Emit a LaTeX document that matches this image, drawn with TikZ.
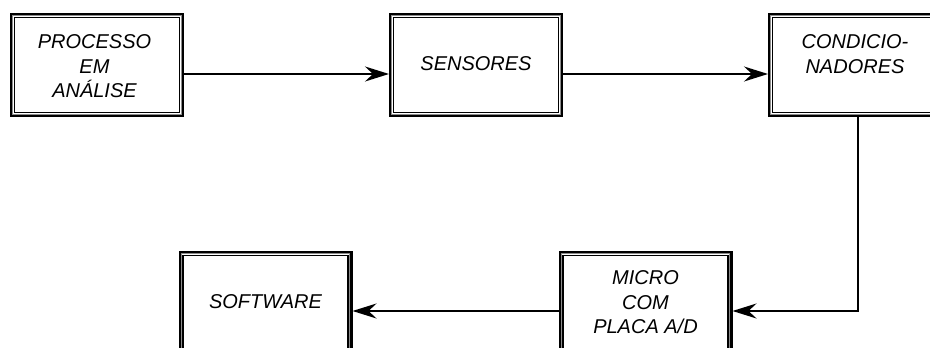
\documentclass[tikz,border=0pt]{standalone}
\usepackage{fontspec}
\setmainfont{Liberation Sans}
\usetikzlibrary{arrows.meta}
\newcommand\boxlbl[1]{\begin{tabular}[t]{@{}c@{}}#1\end{tabular}}
\begin{document}
\begin{tikzpicture}[x=1pt,y=1pt,
  blk/.style={draw=black, line width=3pt, minimum width=171pt, minimum height=101pt, inner sep=0pt, fill=white},
  innerln/.style={draw=black, line width=1.1pt},
  grayln/.style={draw=black!45, line width=1pt},
  lbl/.style={anchor=base, inner sep=0pt, font=\fontsize{20}{24.3}\selectfont\itshape},
  arr/.style={draw=black, line width=1.8pt, -{Stealth[length=24pt,width=15pt,inset=8pt]}}]
\clip (0,0) rectangle (930,348);
\fill[white] (0,0) rectangle (930,348);
\node[blk] (b1) at (97,283) {};
\node[blk] (b2) at (476,283) {};
\node[blk] (b3) at (855,283) {};
\node[blk] (b4) at (645.5,45) {};
\node[blk] (b5) at (265.5,45) {};
\foreach \n in {b1,b2,b3,b4,b5} {
  \draw[grayln] ([shift={(2.8,-2.8)}]\n.north west) rectangle ([shift={(-2.8,2.8)}]\n.south east);
  \draw[innerln] ([shift={(4.5,-4.5)}]\n.north west) rectangle ([shift={(-4.5,4.5)}]\n.south east);
}
\node[lbl] (t1) at (94.5,299) {\boxlbl{PROCESSO\\EM\\ANÁLISE}};
\node[lbl] (t2) at (476,277) {\boxlbl{SENSORES}};
\node[lbl] (t3) at (855,299) {\boxlbl{CONDICIO-\\NADORES}};
\node[lbl] (t4) at (645.5,63) {\boxlbl{MICRO\\COM\\PLACA A/D}};
\node[lbl] (t5) at (265.5,39) {\boxlbl{SOFTWARE}};
\draw[arr] ([yshift=-9pt]b1.east) -- ([yshift=-9pt]b2.west);
\draw[arr] ([yshift=-9pt]b2.east) -- ([yshift=-9pt]b3.west);
\draw[arr] ([xshift=3pt]b3.south) |- ([yshift=-8pt]b4.east);
\draw[arr] ([yshift=-8pt]b4.west) -- ([yshift=-8pt]b5.east);
\end{tikzpicture}
\end{document}
